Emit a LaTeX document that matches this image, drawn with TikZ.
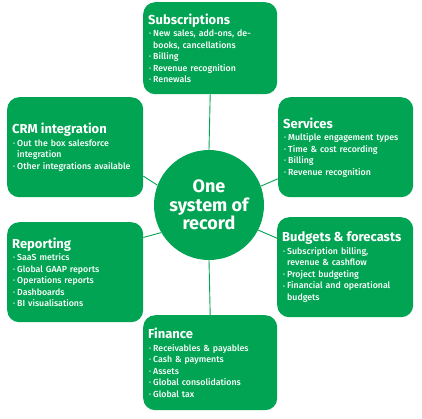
\documentclass[tikz,border=0pt]{standalone}
\usepackage{fontspec}
\setmainfont{Fira Sans}[UprightFont={* Medium},BoldFont={* Bold}]

\newcommand{\itm}{\hspace*{1pt}\makebox[4pt][l]{\fontsize{5.5}{5.5}\selectfont\raisebox{0.8pt}{•}}}
\newcommand{\cont}{\hspace*{5pt}}
\newcommand{\hd}[1]{{\fontsize{13}{15}\selectfont\bfseries #1}}

\begin{document}
\begin{tikzpicture}[x=1pt,y=-1pt,
  panel/.style={fill=sage,text=white,rounded corners=12pt,anchor=north west,
    align=left,inner xsep=5pt,font=\fontsize{8.8}{11.5}\selectfont},
  link/.style={draw=sage,line width=0.9pt}]
\definecolor{sage}{RGB}{0,164,82}

\useasboundingbox (0,0) rectangle (422,418);

% centre of the wheel
\node[circle,fill=sage,text=white,minimum size=110pt,inner sep=0pt,align=center,
  font=\fontsize{18}{18.5}\selectfont\bfseries] (sor) at (209,205)
  {One\\system of\\record};

% the six panels round it
\node[panel,minimum width=134pt,minimum height=92pt,text width=124pt] (subs) at (143,2)
  {\hd{Subscriptions}\\[1pt]
   \itm New sales, add-ons, de-\\
   \cont books, cancellations\\
   \itm Billing\\
   \itm Revenue recognition\\
   \itm Renewals};
\node[panel,minimum width=136pt,minimum height=100pt,text width=126pt] (crm) at (7,97)
  {\hd{CRM integration}\\[1pt]
   \itm Out the box salesforce\\
   \cont integration\\
   \itm Other integrations available};
\node[panel,minimum width=135pt,minimum height=100pt,text width=125pt] (serv) at (278,97)
  {\hd{Services}\\[1pt]
   \itm Multiple engagement types\\
   \itm Time \& cost recording\\
   \itm Billing\\
   \itm Revenue recognition};
\node[panel,minimum width=136pt,minimum height=100pt,text width=126pt] (report) at (7,222)
  {\hd{Reporting}\\[1pt]
   \itm SaaS metrics\\
   \itm Global GAAP reports\\
   \itm Operations reports\\
   \itm Dashboards\\
   \itm BI visualisations};
\node[panel,minimum width=136pt,minimum height=100pt,text width=126pt] (budget) at (277,217)
  {\hd{Budgets \& forecasts}\\[1pt]
   \itm Subscription billing,\\
   \cont revenue \& cashflow\\
   \itm Project budgeting\\
   \itm Financial and operational\\
   \cont budgets};
\node[panel,minimum width=134pt,minimum height=95pt,text width=124pt] (fin) at (143,315)
  {\hd{Finance}\\[1pt]
   \itm Receivables \& payables\\
   \itm Cash \& payments\\
   \itm Assets\\
   \itm Global consolidations\\
   \itm Global tax};

% spokes
\draw[link] (subs.south) -- (sor.north);
\draw[link] (sor.south) -- (fin.north);
\draw[link] (crm.-23) -- (sor.159);
\draw[link] (serv.205) -- (sor.20);
\draw[link] (report.27) -- (sor.210);
\draw[link] (budget.157) -- (sor.-27);
\end{tikzpicture}
\end{document}
